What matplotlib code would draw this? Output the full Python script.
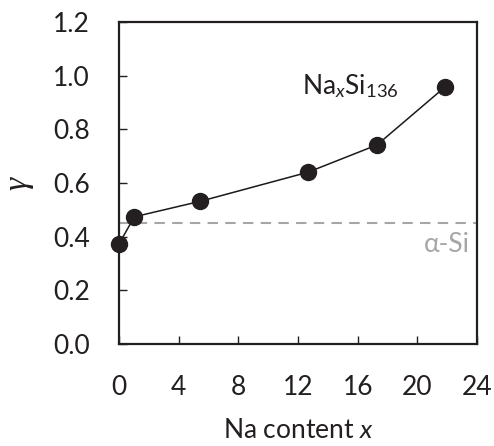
import matplotlib
matplotlib.use("Agg")
import matplotlib.pyplot as plt

na_content = [0.0, 1.03, 5.46, 12.66, 17.3, 21.88]
gamma = [0.373, 0.474, 0.532, 0.640, 0.742, 0.959]
alpha_si_gamma = 0.450
x_ticks = [0, 4, 8, 12, 16, 20, 24]
y_ticks = [0.0, 0.2, 0.4, 0.6, 0.8, 1.0, 1.2]

plt.rcParams['font.family'] = ['Lato', 'DejaVu Sans']
plt.rcParams['mathtext.fontset'] = 'custom'
plt.rcParams['mathtext.rm'] = 'Lato'
plt.rcParams['mathtext.it'] = 'Lato:style=italic'

FS = 19

fig = plt.figure(figsize=(4.94, 4.46), dpi=100)
ax = fig.add_axes([119/494, 1 - 344/446, (477-119)/494, (344-22)/446])

ax.axhline(alpha_si_gamma, color='#a6a6a6', lw=1.5, ls=(0, (5, 3.5)), zorder=1)
ax.plot(na_content, gamma, color='#1a1a1a', lw=1.1, marker='o', ms=11.5,
        mfc='#231f20', mec='#231f20', zorder=3, clip_on=False)

ax.set_xlim(0, 24)
ax.set_ylim(0, 1.2)
ax.set_xticks(x_ticks)
ax.set_yticks(y_ticks)
ax.set_xticklabels([str(t) for t in x_ticks])
ax.set_yticklabels([f"{t:.1f}" for t in y_ticks])
ax.tick_params(direction='in', length=6, width=1.0, labelsize=FS,
               colors='#231f20', top=False, right=False)
ax.tick_params(axis='x', pad=22)
ax.tick_params(axis='y', pad=21)
for s in ax.spines.values():
    s.set_linewidth(1.6)
    s.set_color('#231f20')

ax.text(12.3, 0.93, r'Na$_{\mathit{x}}$Si$_{\mathrm{136}}$', fontsize=FS, color='#231f20',
        ha='left', va='baseline')
ax.text(23.5, 0.37, 'α-Si', fontsize=FS, color='#a6a6a6', ha='right', va='center')

ax.set_xlabel(r'Na content $\mathit{x}$', fontsize=FS, color='#231f20', labelpad=13)
ax.set_ylabel('γ', fontsize=24, color='#231f20', family='Liberation Serif',
              style='italic', rotation=90, labelpad=14)

fig.savefig('out.png', dpi=100)
